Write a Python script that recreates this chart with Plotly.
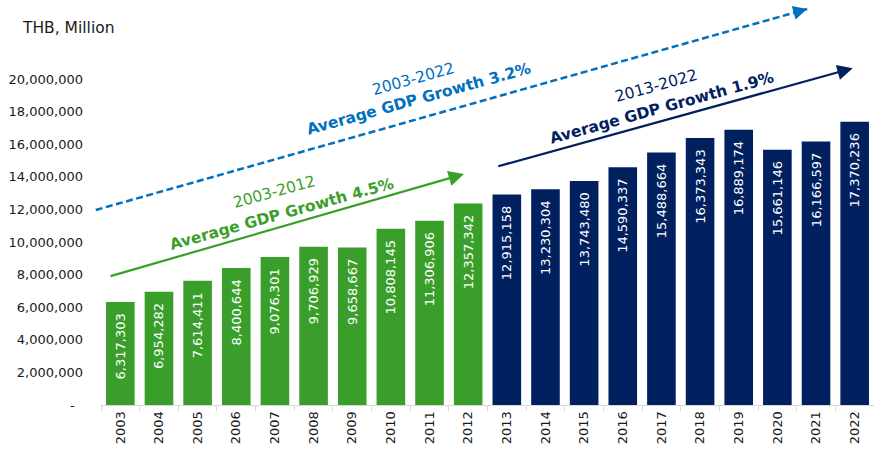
import plotly.graph_objects as go

years = [str(y) for y in range(2003, 2023)]
gdp = [6317303, 6954282, 7614411, 8400644, 9076301, 9706929, 9658667, 10808145,
       11306906, 12357342, 12915158, 13230304, 13743480, 14590337, 15488664,
       16373343, 16889174, 15661146, 16166597, 17370236]
period_split = 10  # first 10 years green, rest navy

y_ticks = list(range(0, 20000001, 2000000))
y_ticktext = ["-\u00a0\u00a0"] + [f"{v:,}" for v in y_ticks[1:]]

GREEN = "#3A9F2A"
NAVY = "#002060"
BLUE = "#0070C0"
FONT = "DejaVu Sans"

colors = [GREEN if i < period_split else NAVY for i in range(len(years))]
labels = [f"{v:,}\u00a0\u00a0" for v in gdp]

XR = [-0.5, 19.5]
YR = [0, 24.23e6]

def px_(i):
    return (i - XR[0]) / (XR[1] - XR[0])

def py_(v):
    return (v - YR[0]) / (YR[1] - YR[0])

fig = go.Figure()
fig.add_trace(go.Bar(
    x=years, y=gdp, marker=dict(color=colors, line=dict(width=0)),
    text=labels, textposition="inside", insidetextanchor="end", textangle=-90,
    insidetextfont=dict(color="white", size=13, family=FONT),
    width=0.74, hoverinfo="x+y",
))

annotations = []
shapes = []

# dashed 2003-2022 trend arrow
d0 = (-0.636, 11.96e6)
d1 = (17.77, 24.29e6)
shapes.append(dict(type="line", xref="paper", yref="paper",
                   x0=px_(d0[0]), y0=py_(d0[1]), x1=px_(d1[0]), y1=py_(d1[1]),
                   line=dict(color=BLUE, width=2.5, dash="7px,3.5px")))
annotations.append(dict(xref="paper", yref="paper", x=px_(d1[0]), y=py_(d1[1]),
                        ax=-12, ay=3.4, text="", showarrow=True, arrowhead=2,
                        arrowsize=1.4, arrowwidth=2, arrowcolor=BLUE, standoff=0))

# solid arrows
for (s, e, c) in [((-0.292, 7.88e6), (8.893, 14.17e6), GREEN),
                  ((9.739, 14.62e6), (18.95, 20.66e6), NAVY)]:
    annotations.append(dict(xref="x", yref="y", axref="x", ayref="y",
                            x=e[0], y=e[1], ax=s[0], ay=s[1], text="",
                            showarrow=True, arrowhead=2, arrowsize=1.4,
                            arrowwidth=2.2, arrowcolor=c, standoff=0))

# rotated texts
texts = [
    ("2003-2012", 3.98, 13.07e6, GREEN, False),
    ("Average GDP Growth 4.5%", 4.19, 11.72e6, GREEN, True),
    ("2003-2022", 7.586, 20.0e6, BLUE, False),
    ("Average GDP Growth 3.2%", 7.728, 18.77e6, BLUE, True),
    ("2013-2022", 13.86, 19.57e6, NAVY, False),
    ("Average GDP Growth 1.9%", 14.01, 18.22e6, NAVY, True),
]
for t, xi, yv, c, b in texts:
    annotations.append(dict(xref="x", yref="y", x=xi, y=yv,
                            text=f"<b>{t}</b>" if b else t, showarrow=False,
                            textangle=-15.5, xanchor="center", yanchor="middle",
                            font=dict(color=c, size=15.5, family=FONT)))

annotations.append(dict(xref="paper", yref="paper", x=0, y=1.0, yshift=-18,
                        xanchor="left", yanchor="middle", text="THB, Million",
                        showarrow=False, xshift=20 - 101,
                        font=dict(color="#1a1a1a", size=15.5, family=FONT)))

fig.update_layout(
    width=874, height=455, margin=dict(l=101, r=0, t=10, b=50),
    paper_bgcolor="white", plot_bgcolor="white", showlegend=False,
    font=dict(family=FONT, color="#1a1a1a"),
    annotations=annotations, shapes=shapes,
    xaxis=dict(type="category", range=XR, showgrid=False, showline=True,
               linecolor="#D9D9D9", linewidth=1, ticks="outside", tickson="boundaries",
               ticklen=5, tickcolor="#D9D9D9", tickangle=-90,
               tickfont=dict(size=13, family=FONT, color="#1a1a1a"), fixedrange=True),
    yaxis=dict(range=YR, tickvals=y_ticks, ticktext=y_ticktext, showgrid=False,
               zeroline=False, showline=False, ticks="", ticklabelstandoff=17,
               tickfont=dict(size=13, family=FONT, color="#1a1a1a"), fixedrange=True),
)

fig.write_html("out.html", config={"displayModeBar": False},
               post_script="document.body.style.margin='0';document.body.style.overflow='hidden';")
